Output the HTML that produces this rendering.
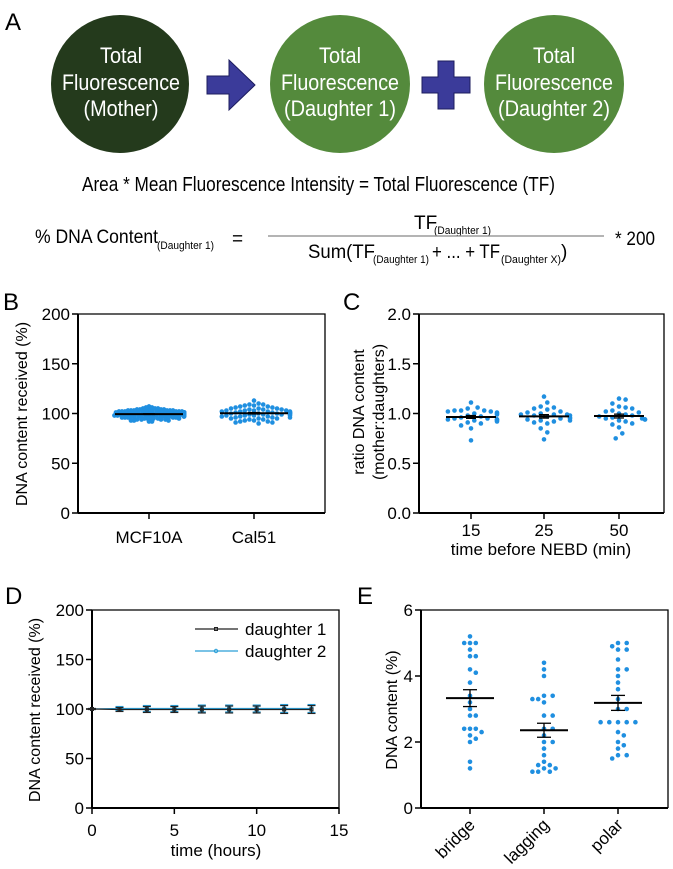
<!DOCTYPE html>
<html><head><meta charset="utf-8"><style>
html,body{margin:0;padding:0;background:#fff;}
svg{display:block;font-family:"Liberation Sans",Arial,sans-serif;}
</style></head><body>
<svg id="fig" width="673" height="869" viewBox="0 0 673 869" xmlns="http://www.w3.org/2000/svg">
<g>
<text x="5" y="30" font-size="24">A</text>
<ellipse cx="120" cy="84" rx="69" ry="69" fill="#243a1c"/>
<g fill="#fff" font-size="22" text-anchor="middle" lengthAdjust="spacingAndGlyphs">
<text x="121" y="63" textLength="42" lengthAdjust="spacingAndGlyphs">Total</text><text x="121" y="90" textLength="118" lengthAdjust="spacingAndGlyphs">Fluorescence</text><text x="121" y="116" textLength="75" lengthAdjust="spacingAndGlyphs">(Mother)</text></g>
<polygon points="207,76 229,76 229,60 255,85 229,110 229,94 207,94" fill="#3b3b9a" stroke="#1c1c5e" stroke-width="1"/>
<ellipse cx="340" cy="84" rx="70" ry="69" fill="#548a3c"/>
<g fill="#fff" font-size="22" text-anchor="middle">
<text x="340" y="63" textLength="42" lengthAdjust="spacingAndGlyphs">Total</text><text x="340" y="90" textLength="118" lengthAdjust="spacingAndGlyphs">Fluorescence</text><text x="340" y="116" textLength="112" lengthAdjust="spacingAndGlyphs">(Daughter 1)</text></g>
<polygon points="438,61 454,61 454,77 470,77 470,93 454,93 454,109 438,109 438,93 422,93 422,77 438,77" fill="#3b3b9a" stroke="#1c1c5e" stroke-width="1"/>
<ellipse cx="554" cy="84" rx="70" ry="69" fill="#548a3c"/>
<g fill="#fff" font-size="22" text-anchor="middle">
<text x="554" y="63" textLength="42" lengthAdjust="spacingAndGlyphs">Total</text><text x="554" y="90" textLength="118" lengthAdjust="spacingAndGlyphs">Fluorescence</text><text x="554" y="116" textLength="112" lengthAdjust="spacingAndGlyphs">(Daughter 2)</text></g>
<text x="82" y="191" font-size="20" textLength="473" lengthAdjust="spacingAndGlyphs">Area * Mean Fluorescence Intensity = Total Fluorescence (TF)</text>
<g font-size="19">
<text x="35" y="243" textLength="123" lengthAdjust="spacingAndGlyphs">% DNA Content</text>
<text x="157" y="249" font-size="11" textLength="57" lengthAdjust="spacingAndGlyphs">(Daughter 1)</text>
<text x="232" y="245">=</text>
<text x="414" y="229">TF</text>
<text x="434" y="234" font-size="11" textLength="57" lengthAdjust="spacingAndGlyphs">(Daughter 1)</text>
<line x1="268" y1="236" x2="604" y2="236" stroke="#888" stroke-width="1.2"/>
<text x="308" y="258" textLength="67" lengthAdjust="spacingAndGlyphs">Sum(TF</text>
<text x="373" y="263" font-size="11" textLength="56" lengthAdjust="spacingAndGlyphs">(Daughter 1)</text>
<text x="432" y="258" textLength="68" lengthAdjust="spacingAndGlyphs">+ ... + TF</text>
<text x="501" y="263" font-size="11" textLength="60" lengthAdjust="spacingAndGlyphs">(Daughter X)</text>
<text x="561" y="258">)</text>
<text x="615" y="245" textLength="40" lengthAdjust="spacingAndGlyphs">* 200</text>
</g>
</g>
<g id="charts"></g>
</svg>
<script>
// Panel B data
const bCategories = ["MCF10A","Cal51"];
const bTicks = [0,50,100,150,200];
const bMCF10A = [107,106,106,105,105,105,104,104,104,104,103,103,103,103,103,103,102,102,102,102,102,102,102,102,101,101,101,101,101,101,101,101,101,101,101,100,100,100,100,100,100,100,100,100,100,100,100,100,100,99,99,99,99,99,99,99,99,99,99,99,98,98,98,98,98,98,98,98,98,97,97,97,97,97,97,97,96,96,96,96,96,96,95,95,95,95,95,94,94,94,94,93,93,93,92,92,101,100,99,102,98,100,101,99,97,103];
const bCal51 = [113,110,109,109,108,108,107,107,106,106,105,105,105,104,104,104,103,103,103,103,102,102,102,102,101,101,101,101,100,100,100,100,100,99,99,99,99,98,98,98,98,97,97,97,96,96,96,95,95,95,94,94,93,93,92,92,91,91,90];
// Panel C data
const cCategories = ["15","25","50"];
const cTicks = ["0.0","0.5","1.0","1.5","2.0"];
const c15 = [1.11,1.06,1.05,1.03,1.03,1.03,1.02,1.02,1.01,1.00,1.00,0.99,0.98,0.97,0.96,0.95,0.95,0.94,0.94,0.94,0.93,0.93,0.92,0.91,0.90,0.88,0.85,0.73];
const c25 = [1.17,1.11,1.07,1.06,1.05,1.04,1.02,1.01,1.00,0.99,0.99,0.99,0.98,0.98,0.97,0.96,0.95,0.95,0.94,0.93,0.93,0.92,0.91,0.90,0.85,0.81,0.74];
const c50 = [1.15,1.14,1.10,1.07,1.06,1.05,1.03,1.02,1.01,1.00,0.99,0.98,0.97,0.96,0.95,0.95,0.94,0.94,0.93,0.92,0.90,0.89,0.86,0.80,0.75];
// Panel D data
const dTimes = [0,1.67,3.33,5,6.67,8.33,10,11.67,13.33];
const dDaughter1 = [100,99.5,99.5,99.5,99.5,99.5,99.5,99.5,99.5];
const dDaughter2 = [100,100.5,100.5,100.5,100.5,100.5,100.5,100.5,100.5];
const dErr = [0.5,2,3,3,3.5,3.5,3.5,4,4];
const dXTicks = [0,5,10,15];
const dYTicks = [0,50,100,150,200];
// Panel E data
const eCategories = ["bridge","lagging","polar"];
const eTicks = [0,2,4,6];
const eBridge = [5.2,5.0,5.0,5.0,4.8,4.6,4.6,4.2,4.1,3.8,3.4,3.2,3.0,2.8,2.8,2.4,2.4,2.4,2.3,2.2,2.1,2.0,1.4,1.2];
const eLagging = [4.4,4.2,4.0,3.4,3.4,3.3,3.3,3.2,2.8,2.8,2.4,2.4,2.2,2.0,2.0,1.8,1.6,1.4,1.3,1.3,1.2,1.2,1.1,1.1,1.1];
const ePolar = [5.0,5.0,4.9,4.8,4.8,4.5,4.2,4.2,4.0,3.8,3.6,3.3,3.0,3.0,2.6,2.6,2.6,2.6,2.6,2.3,2.2,2.0,1.9,1.8,1.6,1.6,1.5];

const NS="http://www.w3.org/2000/svg";
const root=document.getElementById('charts');
function mk(tag,attrs,parent,text){const e=document.createElementNS(NS,tag);for(const k in attrs)e.setAttribute(k,attrs[k]);if(text!==undefined)e.textContent=text;(parent||root).appendChild(e);return e;}
function mean(a){return a.reduce((s,v)=>s+v,0)/a.length;}
function sem(a){const m=mean(a);const sd=Math.sqrt(a.reduce((s,v)=>s+(v-m)*(v-m),0)/(a.length-1));return sd/Math.sqrt(a.length);}
function swarm(vals,cx,ys,r,minDist,g,maxW){
  const placed=[];const idx=vals.map((v,i)=>i).sort((a,b)=>vals[b]-vals[a]);
  idx.forEach(i=>{const y=ys(vals[i]);let k=0,x=cx;
    for(;k<200;k++){const off=(k%2?1:-1)*Math.ceil(k/2)*minDist*0.5;x=cx+off;
      if(maxW&&Math.abs(off)>maxW){x=cx+((k%2?1:-1)*maxW);break;}
      if(!placed.some(p=>(p[0]-x)**2+(p[1]-y)**2<minDist*minDist))break;}
    placed.push([x,y]);
    const c=mk('circle',{cx:x,cy:y,r:r,fill:'#1f8fe0'},g);
    
    
  });
}
function frame(g,L,T,R,B){
  mk('polyline',{points:`${L},${T} ${R},${T} ${R},${B}`,fill:'none',stroke:'#000','stroke-width':1.3},g);
  mk('line',{x1:L,y1:T,x2:L,y2:B,stroke:'#000','stroke-width':2},g);
  mk('line',{x1:L,y1:B,x2:R,y2:B,stroke:'#000','stroke-width':2},g);
}
function yAxis(g,L,ys,ticks,labels){
  ticks.forEach((t,i)=>{const y=ys(t);mk('line',{x1:L-6,y1:y,x2:L,y2:y,stroke:'#000','stroke-width':1.5},g);
    const tx=mk('text',{x:L-8,y:y+6,'font-size':17,'text-anchor':'end'},g,labels?labels[i]:t);
    });
}
function meanBar(g,vals,cx,ys,half,capHalf){
  const m=mean(vals),s=sem(vals);
  mk('line',{x1:cx-half,y1:ys(m),x2:cx+half,y2:ys(m),stroke:'#000','stroke-width':2},g);
  mk('line',{x1:cx,y1:ys(m-s),x2:cx,y2:ys(m+s),stroke:'#000','stroke-width':1.3},g);
  [m-s,m+s].forEach(v=>mk('line',{x1:cx-capHalf,y1:ys(v),x2:cx+capHalf,y2:ys(v),stroke:'#000','stroke-width':1.3},g));
}

// ---- Panel B
(function(){
  const g=mk('g',{});
  const L=78,T=314,R=325,B=513;const ys=v=>B-(v/200)*(B-T);
  mk('text',{x:3,y:310,'font-size':24},g,'B');
  const xs=[149,254];
  swarm(bMCF10A,xs[0],ys,2.4,3.0,g,35);
  swarm(bCal51,xs[1],ys,2.3,4.6,g,36);
  [bMCF10A,bCal51].forEach((d,i)=>meanBar(g,d,xs[i],ys,34,6));
  frame(g,L,T,R,B);yAxis(g,L,ys,bTicks);
  xs.forEach((x,i)=>{mk('line',{x1:x,y1:B,x2:x,y2:B+6,stroke:'#000','stroke-width':1.5},g);
    const t=mk('text',{x:x,y:B+30,'font-size':17,'text-anchor':'middle'},g,bCategories[i]);
    });
  const yt=mk('text',{x:0,y:0,'font-size':16,'text-anchor':'middle',transform:'translate(27,414) rotate(-90)'},g,'DNA content received (%)');
  
})();

// ---- Panel C
(function(){
  const g=mk('g',{});
  const L=419,T=314,R=664,B=513;const ys=v=>B-(v/2)*(B-T);
  mk('text',{x:343,y:310,'font-size':24},g,'C');
  const xs=[471,544,619];const data=[c15,c25,c50];
  data.forEach((d,i)=>swarm(d,xs[i],ys,2.3,6.6,g,26));
  data.forEach((d,i)=>meanBar(g,d,xs[i],ys,25,5));
  frame(g,L,T,R,B);yAxis(g,L,ys,[0,0.5,1,1.5,2],cTicks);
  xs.forEach((x,i)=>{mk('line',{x1:x,y1:B,x2:x,y2:B+6,stroke:'#000','stroke-width':1.5},g);
    const t=mk('text',{x:x,y:B+23,'font-size':17,'text-anchor':'middle'},g,cCategories[i]);
    });
  const xt=mk('text',{x:541,y:555,'font-size':17,'text-anchor':'middle'},g,'time before NEBD (min)');
  
  const y1=mk('text',{x:0,y:0,'font-size':16,'text-anchor':'middle',transform:'translate(364,412) rotate(-90)'},g,'ratio DNA content');
  
  const y2=mk('text',{x:0,y:0,'font-size':16,'text-anchor':'middle',transform:'translate(384,412) rotate(-90)'},g,'(mother:daughters)');
  
})();

// ---- Panel D
(function(){
  const g=mk('g',{});
  const L=92,T=610,R=339,B=808;const ys=v=>B-(v/200)*(B-T);const xs=v=>L+(v/15)*(R-L);
  mk('text',{x:5,y:604,'font-size':24},g,'D');
  frame(g,L,T,R,B);yAxis(g,L,ys,dYTicks);
  dXTicks.forEach(t=>{const x=xs(t);mk('line',{x1:x,y1:B,x2:x,y2:B+6,stroke:'#000','stroke-width':1.5},g);
    const tx=mk('text',{x:x,y:B+28,'font-size':17,'text-anchor':'middle'},g,t);
    });
  [[dDaughter2,'#2a9fd8'],[dDaughter1,'#222']].forEach(([d,c])=>{
    const l=mk('polyline',{points:d.map((v,i)=>xs(dTimes[i])+','+ys(v)).join(' '),fill:'none',stroke:c,'stroke-width':1.2},g);
    
    d.forEach((v,i)=>{const x=xs(dTimes[i]);const e=dErr[i];
      mk('line',{x1:x,y1:ys(v-e),x2:x,y2:ys(v+e),stroke:c,'stroke-width':1.2},g);
      [v-e,v+e].forEach(w=>mk('line',{x1:x-4,y1:ys(w),x2:x+4,y2:ys(w),stroke:c,'stroke-width':1.2},g));
      const m=mk('rect',{x:x-1.5,y:ys(v)-1.5,width:3,height:3,fill:'none',stroke:c,'stroke-width':1},g);
      });
  });
  const lg=mk('g',{},g);
  mk('line',{x1:195,y1:629,x2:238,y2:629,stroke:'#222','stroke-width':1.2},lg);
  mk('rect',{x:214.5,y:627.5,width:3,height:3,fill:'none',stroke:'#222'},lg);
  mk('text',{x:245,y:635,'font-size':17},lg,'daughter 1');
  mk('line',{x1:195,y1:651,x2:238,y2:651,stroke:'#2a9fd8','stroke-width':1.2},lg);
  mk('circle',{cx:216,cy:651,r:1.7,fill:'none',stroke:'#2a9fd8'},lg);
  mk('text',{x:245,y:657,'font-size':17},lg,'daughter 2');
  const xt=mk('text',{x:216,y:856,'font-size':17,'text-anchor':'middle'},g,'time (hours)');
  
  const yt=mk('text',{x:0,y:0,'font-size':16,'text-anchor':'middle',transform:'translate(40,710) rotate(-90)'},g,'DNA content received (%)');
  
})();

// ---- Panel E
(function(){
  const g=mk('g',{});
  const L=421,T=610,R=668,B=808;const ys=v=>B-(v/6)*(B-T);
  mk('text',{x:357,y:604,'font-size':24},g,'E');
  const xs=[470,544,618];const data=[eBridge,eLagging,ePolar];
  data.forEach((d,i)=>swarm(d,xs[i],ys,2.3,5.8,g,20));
  data.forEach((d,i)=>meanBar(g,d,xs[i],ys,24,7));
  frame(g,L,T,R,B);yAxis(g,L,ys,eTicks);
  xs.forEach((x,i)=>{mk('line',{x1:x,y1:B,x2:x,y2:B+6,stroke:'#000','stroke-width':1.5},g);
    const t=mk('text',{x:0,y:0,'font-size':17,'text-anchor':'end',transform:`translate(${x+6},${B+18}) rotate(-45)`},g,eCategories[i]);
    });
  const yt=mk('text',{x:0,y:0,'font-size':16,'text-anchor':'middle',transform:'translate(397,710) rotate(-90)'},g,'DNA content (%)');
  
})();
</script>
</body></html>
